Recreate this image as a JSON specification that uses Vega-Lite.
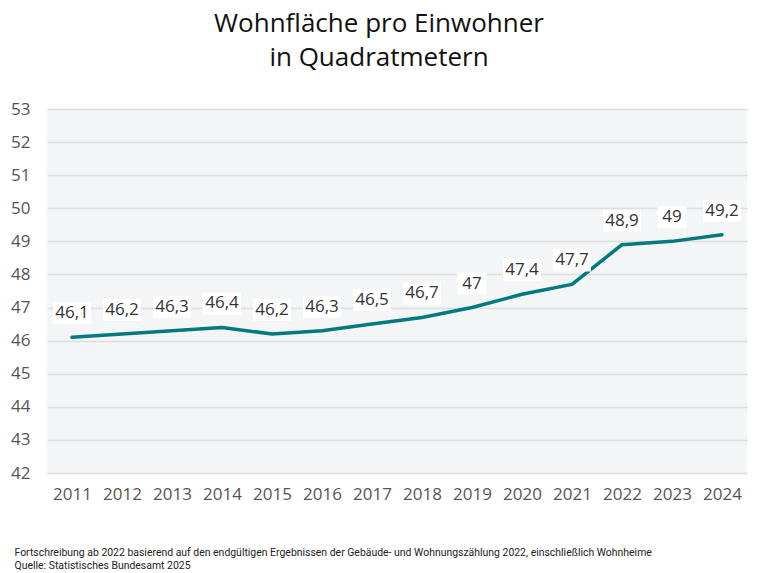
{
  "$schema": "https://vega.github.io/schema/vega-lite/v6.json",
  "autosize": "none",
  "width": 700,
  "height": 364,
  "padding": {"left": 47, "top": 109, "right": 20, "bottom": 100},
  "background": "white",
  "title": {
    "text": ["Wohnfläche pro Einwohner", "in Quadratmetern"],
    "anchor": "middle",
    "frame": "group",
    "dx": -18,
    "offset": 29,
    "fontSize": 26,
    "fontWeight": "normal",
    "font": "Open Sans",
    "color": "#111111",
    "lineHeight": 34
  },
  "data": {
    "values": [
      {"year": "2011", "value": 46.1, "label": "46,1"},
      {"year": "2012", "value": 46.2, "label": "46,2"},
      {"year": "2013", "value": 46.3, "label": "46,3"},
      {"year": "2014", "value": 46.4, "label": "46,4"},
      {"year": "2015", "value": 46.2, "label": "46,2"},
      {"year": "2016", "value": 46.3, "label": "46,3"},
      {"year": "2017", "value": 46.5, "label": "46,5"},
      {"year": "2018", "value": 46.7, "label": "46,7"},
      {"year": "2019", "value": 47.0, "label": "47"},
      {"year": "2020", "value": 47.4, "label": "47,4"},
      {"year": "2021", "value": 47.7, "label": "47,7"},
      {"year": "2022", "value": 48.9, "label": "48,9"},
      {"year": "2023", "value": 49.0, "label": "49"},
      {"year": "2024", "value": 49.2, "label": "49,2"}
    ]
  },
  "encoding": {
    "x": {
      "field": "year",
      "type": "ordinal",
      "scale": {"type": "point", "padding": 0.5},
      "axis": {
        "title": ["Fortschreibung ab 2022 basierend auf den endgültigen Ergebnissen der Gebäude- und Wohnungszählung 2022, einschließlich Wohnheime", "Quelle: Statistisches Bundesamt 2025"],
        "titleAnchor": "start",
        "titleAlign": "left",
        "titleBaseline": "top",
        "titleX": -33,
        "titleY": 74,
        "titleFontSize": 10.45,
        "titleFontWeight": "normal",
        "titleFont": "Roboto",
        "titleColor": "#222222",
        "titleLineHeight": 13.5,
        "labelAngle": 0,
        "labelFontSize": 17,
        "labelFont": "Open Sans",
        "labelColor": "#555555",
        "labelPadding": 13,
        "ticks": false,
        "domain": false,
        "grid": false
      }
    },
    "y": {
      "field": "value",
      "type": "quantitative",
      "scale": {"domain": [42, 53], "nice": false, "zero": false},
      "axis": {
        "title": null,
        "values": [42, 43, 44, 45, 46, 47, 48, 49, 50, 51, 52, 53],
        "labelFontSize": 17,
        "labelFont": "Open Sans",
        "labelColor": "#555555",
        "labelPadding": 17,
        "ticks": false,
        "domain": false,
        "grid": true,
        "gridColor": "#dcdfe2",
        "gridWidth": 1.5
      }
    }
  },
  "layer": [
    {
      "mark": {"type": "line", "color": "#007a80", "strokeWidth": 3.5, "strokeJoin": "round", "strokeCap": "round"}
    },
    {
      "transform": [{"filter": "length(datum.label) > 2"}],
      "mark": {"type": "point", "shape": "M-1.9,-1.1H1.9V1.1H-1.9Z", "size": 400, "filled": true, "fill": "white", "opacity": 1, "strokeWidth": 0, "yOffset": -24}
    },
    {
      "transform": [{"filter": "length(datum.label) <= 2"}],
      "mark": {"type": "point", "shape": "M-1.45,-1.1H1.45V1.1H-1.45Z", "size": 400, "filled": true, "fill": "white", "opacity": 1, "strokeWidth": 0, "yOffset": -24}
    },
    {
      "mark": {"type": "text", "dy": -24, "baseline": "middle", "align": "center", "fontSize": 17, "font": "Open Sans", "color": "#333333"},
      "encoding": {"text": {"field": "label"}}
    }
  ],
  "config": {
    "view": {"fill": "#f4f5f6", "stroke": null}
  }
}
